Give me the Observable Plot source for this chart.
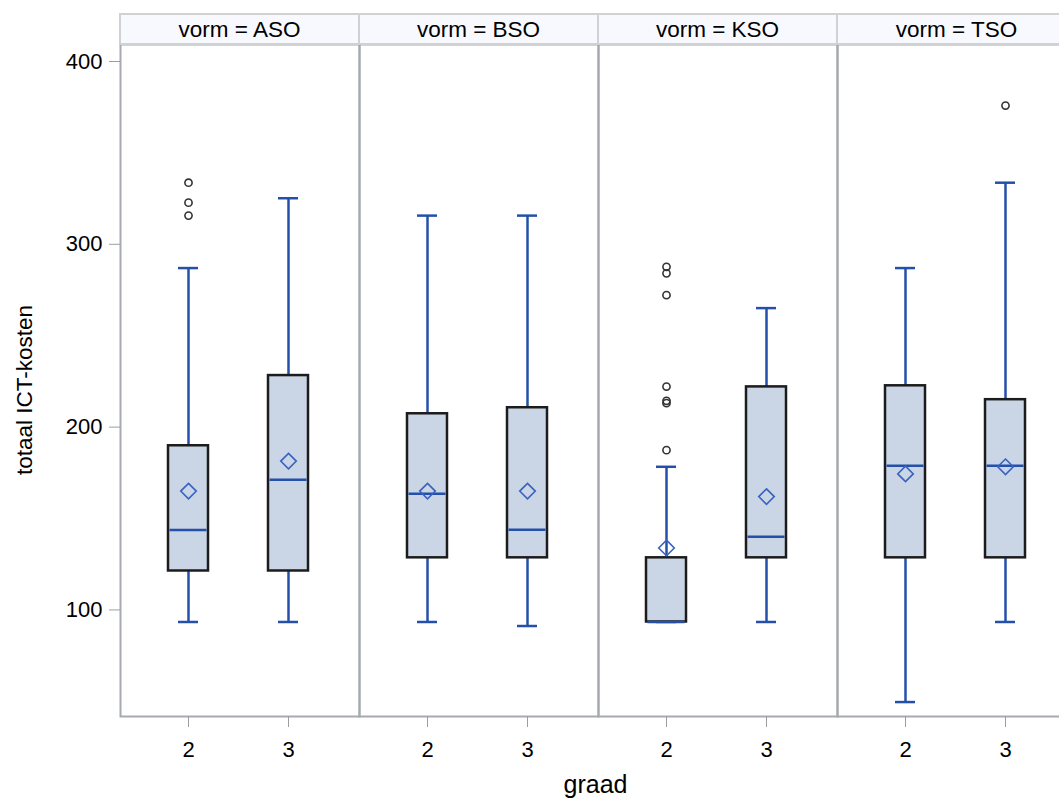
<!DOCTYPE html>
<html>
<head>
<meta charset="utf-8">
<script src="https://cdn.jsdelivr.net/npm/d3@7"></script>
<script src="https://cdn.jsdelivr.net/npm/@observablehq/plot@0.6"></script>
<style>
  html, body { margin: 0; padding: 0; overflow: hidden; background: #fff; }
  #chart { width: 1059px; height: 800px; overflow: hidden; }
  #chart svg { max-width: none !important; width: 1078px !important; height: 800px !important; font-family: "Liberation Sans", Arial, sans-serif; }
</style>
</head>
<body>
<div id="chart"></div>
<script>
// ---- data ----
const vormen = ["ASO", "BSO", "KSO", "TSO"];
const graden = ["2", "3"];
// order: ASO-2, ASO-3, BSO-2, BSO-3, KSO-2, KSO-3, TSO-2, TSO-3
const groupVorm   = ["ASO", "ASO", "BSO", "BSO", "KSO", "KSO", "TSO", "TSO"];
const groupGraad  = ["2", "3", "2", "3", "2", "3", "2", "3"];
const whiskerLow  = [93.4, 93.4, 93.4, 91.2, 93.4, 93.4, 49.6, 93.4];
const q1          = [121.3, 121.3, 128.5, 128.5, 93.4, 128.5, 128.5, 128.5];
const median      = [143.7, 171.2, 163.5, 143.8, 93.4, 140.0, 178.8, 178.8];
const mean        = [165.0, 181.4, 165.0, 165.0, 133.9, 162.0, 174.4, 178.3];
const q3          = [189.8, 228.2, 207.3, 210.6, 128.5, 222.0, 222.6, 215.0];
const whiskerHigh = [287.0, 325.2, 315.7, 315.7, 178.3, 265.1, 287.0, 333.7];
const outlierVorm  = ["ASO", "ASO", "ASO", "KSO", "KSO", "KSO", "KSO", "KSO", "KSO", "KSO", "TSO"];
const outlierGraad = ["2", "2", "2", "2", "2", "2", "2", "2", "2", "2", "3"];
const outlierValue = [333.7, 322.8, 315.7, 287.7, 284.1, 272.2, 222.2, 214.4, 213.1, 187.4, 375.9];
const yTicks = [100, 200, 300, 400];
const facetPrefix = "vorm = ";
const xTitle = "graad";
const yTitle = "totaal ICT-kosten";

// ---- tables built from the arrays ----
const boxes = groupVorm.map((v, i) => ({
  vorm: v, graad: groupGraad[i], lo: whiskerLow[i], q1: q1[i], med: median[i],
  mean: mean[i], q3: q3[i], hi: whiskerHigh[i]
}));
const outliers = outlierValue.map((y, i) => ({vorm: outlierVorm[i], graad: outlierGraad[i], y}));

const blue = "#2450aa";
const meanBlue = "#3a62c0";
const W = 1078, H = 800, mL = 119, mR = 2, mT = 44, mB = 84;
const font = 22;

const plot = Plot.plot({
  width: W,
  height: H,
  marginLeft: mL,
  marginRight: mR,
  marginTop: mT,
  marginBottom: mB,
  style: {fontFamily: "Liberation Sans, Arial, sans-serif", fontSize: font + "px", color: "#000", background: "#fff", maxWidth: "none"},
  fx: {domain: vormen, paddingInner: 0, paddingOuter: 0, axis: null, label: null},
  x: {domain: graden, type: "band", paddingInner: 0.6, paddingOuter: 0.49, align: 0.48, axis: null, label: null},
  y: {domain: [41.7, 409.3], axis: null, label: null},
  marks: [
    Plot.frame({stroke: "#a6aaae", strokeWidth: 2}),
    Plot.axisY({ticks: yTicks, tickSize: 11, tickPadding: 7, stroke: "#9a9ea2", fill: "#000",
                fontSize: font, label: null, tickFormat: d => d}),
    Plot.axisX({tickSize: 11, tickPadding: 14, stroke: "#9a9ea2", fill: "#000",
                fontSize: font, label: null}),
    // whiskers
    Plot.ruleX(boxes, {fx: "vorm", x: "graad", y1: "q3", y2: "hi", stroke: blue, strokeWidth: 2.5}),
    Plot.ruleX(boxes, {fx: "vorm", x: "graad", y1: "lo", y2: "q1", stroke: blue, strokeWidth: 2.5}),
    // caps
    Plot.tickY(boxes, {fx: "vorm", x: "graad", y: "hi", stroke: blue, strokeWidth: 2.5, insetLeft: 10, insetRight: 10}),
    Plot.tickY(boxes, {fx: "vorm", x: "graad", y: "lo", stroke: blue, strokeWidth: 2.5, insetLeft: 10, insetRight: 10}),
    // boxes
    Plot.barY(boxes, {fx: "vorm", x: "graad", y1: "q1", y2: "q3", fill: "#cad5e5", stroke: "#1c1c1c", strokeWidth: 2.5}),
    // median
    Plot.tickY(boxes, {fx: "vorm", x: "graad", y: "med", stroke: blue, strokeWidth: 2.5, insetLeft: 1.5, insetRight: 1.5}),
    // mean
    Plot.dot(boxes, {fx: "vorm", x: "graad", y: "mean", symbol: "diamond2", r: 7, fill: "none", stroke: meanBlue, strokeWidth: 1.6}),
    // outliers
    Plot.dot(outliers, {fx: "vorm", x: "graad", y: "y", r: 3.6, fill: "none", stroke: "#333", strokeWidth: 1.6})
  ]
});

document.getElementById("chart").appendChild(plot);

const svg = d3.select(plot);
svg.selectAll('g[aria-label$="tick label"]').attr("font-size", font).style("font-size", font + "px");
svg.selectAll('g[aria-label$="tick label"] text').attr("font-size", font).style("font-size", font + "px").attr("fill", "#000");

// ---- facet header strips and axis titles, positioned from Plot's scales ----
const fx = plot.scale("fx");
const bw = fx.bandwidth;
const header = svg.append("g").attr("class", "facet-headers");
vormen.forEach(v => {
  const x0 = fx.apply(v);
  header.append("rect")
    .attr("x", x0).attr("y", 14).attr("width", bw).attr("height", mT - 14)
    .attr("fill", "#f8f9fe").attr("stroke", "#cfd1d3").attr("stroke-width", 2);
  header.append("text")
    .attr("x", x0 + bw / 2).attr("y", 29).attr("dy", "0.35em")
    .attr("text-anchor", "middle").attr("font-size", 22.5).attr("fill", "#000")
    .text(facetPrefix + v);
});
svg.append("text")
  .attr("x", mL + (W - mL - mR) / 2 - 2).attr("y", 793)
  .attr("text-anchor", "middle").attr("font-size", 25).attr("fill", "#000")
  .text(xTitle);
svg.append("text")
  .attr("transform", `translate(32, ${mT + (H - mT - mB) / 2 + 10}) rotate(-90)`)
  .attr("text-anchor", "middle").attr("font-size", 22.5).attr("fill", "#000")
  .text(yTitle);
</script>
</body>
</html>
